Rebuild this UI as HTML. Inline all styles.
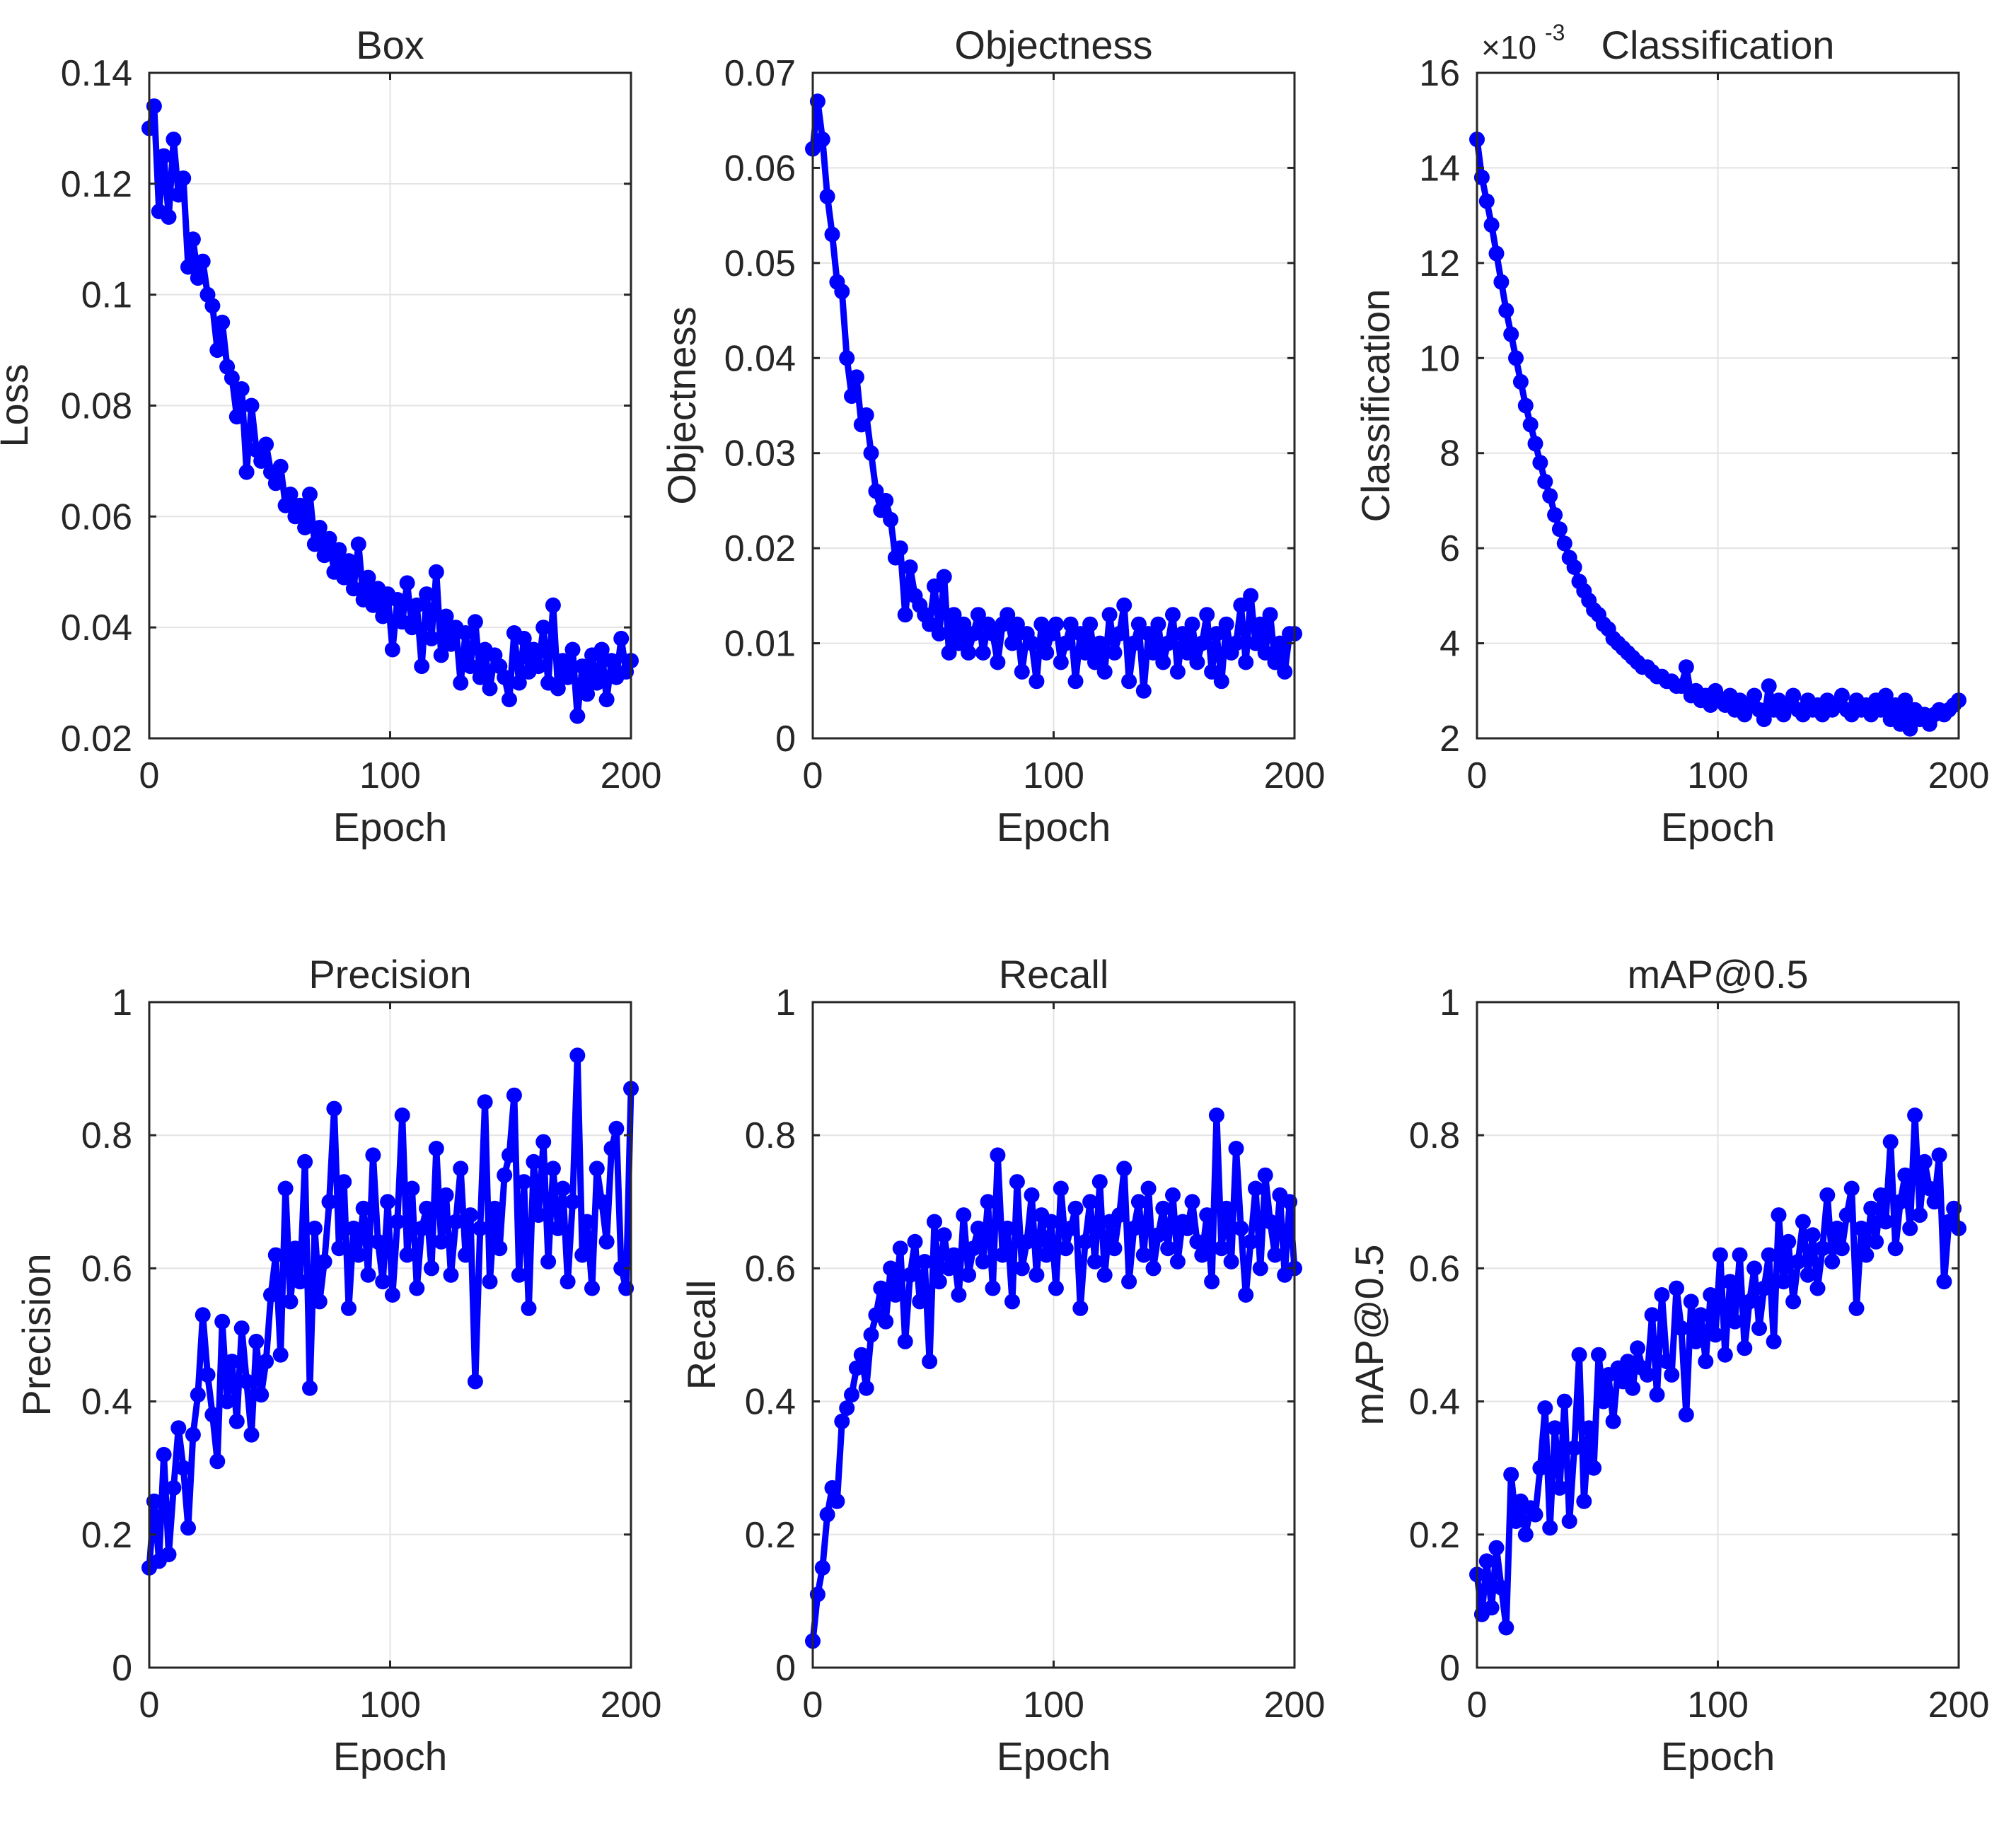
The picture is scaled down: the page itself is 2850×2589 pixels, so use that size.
<!DOCTYPE html>
<html><head><meta charset="utf-8"><style>
html,body{margin:0;padding:0;background:#fff;}
svg text{font-family:"Liberation Sans",sans-serif;fill:#262626;}
</style></head><body>
<svg id="fig" width="2850" height="2584" viewBox="0 0 2850 2584" xmlns="http://www.w3.org/2000/svg"></svg>
<script>
const epochRange = [0, 200];
const xTicks = [0, 100, 200];
const boxVals = [0.130,0.134,0.115,0.125,0.114,0.128,0.118,0.121,0.105,0.110,0.103,0.106,0.100,0.098,0.090,0.095,0.087,0.085,0.078,0.083,0.068,0.080,0.072,0.070,0.073,0.068,0.066,0.069,0.062,0.064,0.060,0.062,0.058,0.064,0.055,0.058,0.053,0.056,0.050,0.054,0.049,0.052,0.047,0.055,0.045,0.049,0.044,0.047,0.042,0.046,0.036,0.045,0.041,0.048,0.040,0.044,0.033,0.046,0.038,0.050,0.035,0.042,0.037,0.040,0.030,0.039,0.033,0.041,0.031,0.036,0.029,0.035,0.033,0.031,0.027,0.039,0.030,0.038,0.032,0.036,0.033,0.040,0.030,0.044,0.029,0.034,0.031,0.036,0.024,0.033,0.028,0.035,0.030,0.036,0.027,0.034,0.031,0.038,0.032,0.034];
const objVals = [0.062,0.067,0.063,0.057,0.053,0.048,0.047,0.040,0.036,0.038,0.033,0.034,0.030,0.026,0.024,0.025,0.023,0.019,0.020,0.013,0.018,0.015,0.014,0.013,0.012,0.016,0.011,0.017,0.009,0.013,0.010,0.012,0.009,0.011,0.013,0.009,0.012,0.011,0.008,0.012,0.013,0.010,0.012,0.007,0.011,0.010,0.006,0.012,0.009,0.011,0.012,0.008,0.010,0.012,0.006,0.011,0.009,0.012,0.008,0.010,0.007,0.013,0.009,0.011,0.014,0.006,0.010,0.012,0.005,0.011,0.009,0.012,0.008,0.010,0.013,0.007,0.011,0.009,0.012,0.008,0.010,0.013,0.007,0.011,0.006,0.012,0.009,0.010,0.014,0.008,0.015,0.010,0.012,0.009,0.013,0.008,0.010,0.007,0.011,0.011];
const clsVals = [14.6,13.8,13.3,12.8,12.2,11.6,11.0,10.5,10.0,9.5,9.0,8.6,8.2,7.8,7.4,7.1,6.7,6.4,6.1,5.8,5.6,5.3,5.1,4.9,4.7,4.6,4.4,4.3,4.1,4.0,3.9,3.8,3.7,3.6,3.5,3.5,3.4,3.3,3.3,3.2,3.2,3.1,3.1,3.5,2.9,3.0,2.8,2.9,2.7,3.0,2.8,2.7,2.9,2.6,2.8,2.5,2.7,2.9,2.6,2.4,3.1,2.6,2.8,2.5,2.7,2.9,2.6,2.5,2.8,2.6,2.7,2.5,2.8,2.6,2.7,2.9,2.6,2.5,2.8,2.6,2.7,2.5,2.8,2.6,2.9,2.4,2.7,2.3,2.8,2.2,2.6,2.4,2.5,2.3,2.5,2.6,2.5,2.6,2.7,2.8];
const precVals = [0.15,0.25,0.16,0.32,0.17,0.27,0.36,0.30,0.21,0.35,0.41,0.53,0.44,0.38,0.31,0.52,0.40,0.46,0.37,0.51,0.43,0.35,0.49,0.41,0.46,0.56,0.62,0.47,0.72,0.55,0.63,0.58,0.76,0.42,0.66,0.55,0.61,0.70,0.84,0.63,0.73,0.54,0.66,0.62,0.69,0.59,0.77,0.64,0.58,0.70,0.56,0.67,0.83,0.62,0.72,0.57,0.66,0.69,0.60,0.78,0.64,0.71,0.59,0.67,0.75,0.62,0.68,0.43,0.66,0.85,0.58,0.69,0.63,0.74,0.77,0.86,0.59,0.73,0.54,0.76,0.68,0.79,0.61,0.75,0.66,0.72,0.58,0.70,0.92,0.62,0.67,0.57,0.75,0.70,0.64,0.78,0.81,0.60,0.57,0.87];
const recVals = [0.04,0.11,0.15,0.23,0.27,0.25,0.37,0.39,0.41,0.45,0.47,0.42,0.50,0.53,0.57,0.52,0.60,0.56,0.63,0.49,0.59,0.64,0.55,0.61,0.46,0.67,0.58,0.65,0.60,0.62,0.56,0.68,0.59,0.63,0.66,0.61,0.70,0.57,0.77,0.62,0.66,0.55,0.73,0.60,0.64,0.71,0.59,0.68,0.62,0.67,0.57,0.72,0.63,0.66,0.69,0.54,0.64,0.70,0.61,0.73,0.59,0.67,0.63,0.68,0.75,0.58,0.66,0.70,0.62,0.72,0.60,0.65,0.69,0.63,0.71,0.61,0.67,0.66,0.70,0.64,0.62,0.68,0.58,0.83,0.63,0.69,0.61,0.78,0.66,0.56,0.64,0.72,0.60,0.74,0.67,0.62,0.71,0.59,0.70,0.60];
const mapVals = [0.14,0.08,0.16,0.09,0.18,0.12,0.06,0.29,0.22,0.25,0.20,0.24,0.23,0.30,0.39,0.21,0.36,0.27,0.40,0.22,0.33,0.47,0.25,0.36,0.30,0.47,0.40,0.44,0.37,0.45,0.43,0.46,0.42,0.48,0.45,0.44,0.53,0.41,0.56,0.46,0.44,0.57,0.51,0.38,0.55,0.49,0.53,0.46,0.56,0.50,0.62,0.47,0.58,0.52,0.62,0.48,0.55,0.60,0.51,0.57,0.62,0.49,0.68,0.58,0.64,0.55,0.61,0.67,0.59,0.65,0.57,0.63,0.71,0.61,0.66,0.63,0.68,0.72,0.54,0.66,0.62,0.69,0.64,0.71,0.67,0.79,0.63,0.70,0.74,0.66,0.83,0.68,0.76,0.72,0.70,0.77,0.58,0.67,0.69,0.66];
const boxTicks = ["0.02","0.04","0.06","0.08","0.1","0.12","0.14"];
const objTicks = ["0","0.01","0.02","0.03","0.04","0.05","0.06","0.07"];
const clsTicks = ["2","4","6","8","10","12","14","16"];
const unitTicks = ["0","0.2","0.4","0.6","0.8","1"];

const NS = "http://www.w3.org/2000/svg";
const svg = document.getElementById('fig');
function mk(tag, attrs, parent){const e=document.createElementNS(NS,tag);for(const k in attrs)e.setAttribute(k,attrs[k]);(parent||svg).appendChild(e);return e;}

const panels = [
 {key:'box',title:'Box',ylabel:'Loss',vals:boxVals,ticks:boxTicks,left:211,top:103,ylo:0.02,yhi:0.14,ylabOff:-172},
 {key:'objectness',title:'Objectness',ylabel:'Objectness',vals:objVals,ticks:objTicks,left:1149,top:103,ylo:0,yhi:0.07,ylabOff:-166},
 {key:'classification',title:'Classification',ylabel:'Classification',vals:clsVals,ticks:clsTicks,left:2088,top:103,ylo:2,yhi:16,ylabOff:-124,exp:true},
 {key:'precision',title:'Precision',ylabel:'Precision',vals:precVals,ticks:unitTicks,left:211,top:1417,ylo:0,yhi:1,ylabOff:-140},
 {key:'recall',title:'Recall',ylabel:'Recall',vals:recVals,ticks:unitTicks,left:1149,top:1417,ylo:0,yhi:1,ylabOff:-138},
 {key:'map',title:'mAP@0.5',ylabel:'mAP@0.5',vals:mapVals,ticks:unitTicks,left:2088,top:1417,ylo:0,yhi:1,ylabOff:-133}
];
const W=681, H=941;
panels.forEach(p=>{
  const g=mk('g',{});
  
  
  const L=p.left,T=p.top,R=L+W,B=T+H;
  const xs=v=>L+(v-epochRange[0])/(epochRange[1]-epochRange[0])*W;
  const ys=v=>B-(v-p.ylo)/(p.yhi-p.ylo)*H;
  xTicks.forEach(t=>{const x=xs(t);
    const gl=mk('line',{x1:x,x2:x,y1:T,y2:B,stroke:'#e3e3e3','stroke-width':2},g);
    
    
  });
  p.ticks.forEach(t=>{const y=ys(parseFloat(t));
    const gl=mk('line',{x1:L,x2:R,y1:y,y2:y,stroke:'#e3e3e3','stroke-width':2},g);
    
    
  });
  const n=p.vals.length;
  const pts=p.vals.map((v,i)=>[xs(epochRange[0]+i*(epochRange[1]-epochRange[0])/(n-1)),ys(v)]);
  const line=mk('polyline',{points:pts.map(q=>q[0].toFixed(1)+','+q[1].toFixed(1)).join(' '),fill:'none',stroke:'#0000ff','stroke-width':9,'stroke-linejoin':'round'},g);
  
  
  pts.forEach(q=>{
    const c=mk('circle',{cx:q[0].toFixed(1),cy:q[1].toFixed(1),r:11,fill:'#0000ff'},g);
    
    
  });
  const ax=mk('rect',{x:L,y:T,width:W,height:H,fill:'none',stroke:'#262626','stroke-width':3},g);
  
  
  xTicks.forEach(t=>{const x=xs(t);
    mk('line',{x1:x,x2:x,y1:B,y2:B-10,stroke:'#262626','stroke-width':3},g);
    mk('line',{x1:x,x2:x,y1:T,y2:T+10,stroke:'#262626','stroke-width':3},g);
    const tx=mk('text',{x:x,y:B+70,'font-size':52,'text-anchor':'middle'},g);
    tx.textContent=t;
    
    
  });
  p.ticks.forEach(t=>{const y=ys(parseFloat(t));
    mk('line',{x1:L,x2:L+10,y1:y,y2:y,stroke:'#262626','stroke-width':3},g);
    mk('line',{x1:R,x2:R-10,y1:y,y2:y,stroke:'#262626','stroke-width':3},g);
    const tx=mk('text',{x:L-24,y:y+18,'font-size':52,'text-anchor':'end'},g);
    tx.textContent=t;
    
    
  });
  const tt=mk('text',{x:L+W/2,y:T-20,'font-size':56,'text-anchor':'middle'},g);
  tt.textContent=p.title;
  
  
  const xl=mk('text',{x:L+W/2,y:B+145,'font-size':57,'text-anchor':'middle'},g);
  xl.textContent='Epoch';
  
  
  const cy=T+H/2;
  const yl=mk('text',{x:L+p.ylabOff,y:cy,'font-size':56,'text-anchor':'middle',transform:'rotate(-90 '+(L+p.ylabOff)+' '+cy+')'},g);
  yl.textContent=p.ylabel;
  
  
  if(p.exp){
    const ex=mk('text',{x:L+6,y:T-20,'font-size':46},g);
    ex.textContent='\u00d710';
    
    
    const sup=mk('text',{x:L+96,y:T-46,'font-size':32},g);
    sup.textContent='-3';
    
    
  }
});
</script>
</body></html>
